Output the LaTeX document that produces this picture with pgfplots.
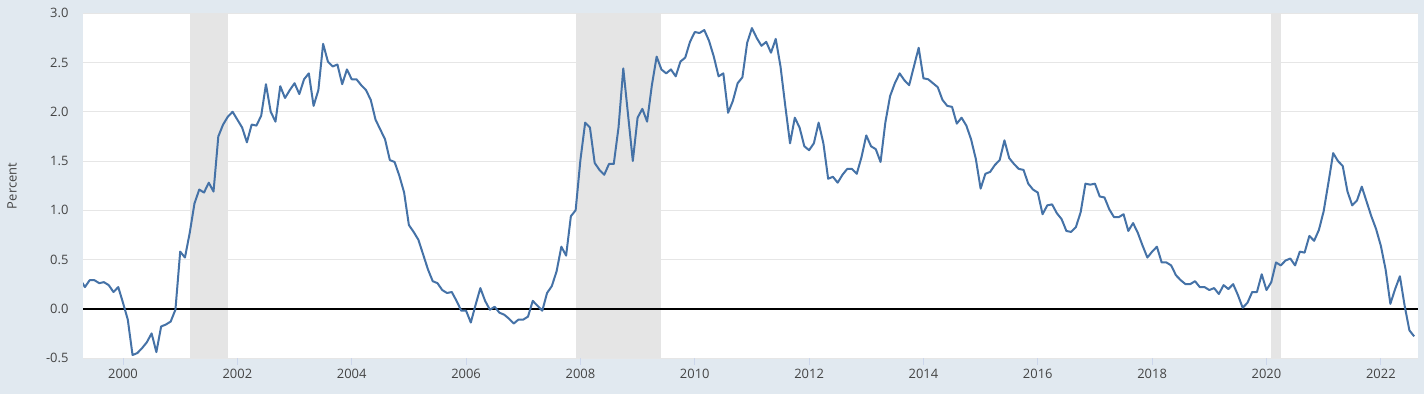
\documentclass[border=0pt]{standalone}
\usepackage{fontspec}
\setmainfont{Open Sans}
\usepackage{pgfplots}
\pgfplotsset{compat=1.18}
\usepackage{pgfplotstable}
\definecolor{bg}{HTML}{E1E9F0}
\definecolor{seriesc}{HTML}{4572A7}
\definecolor{gridc}{HTML}{E6E6E6}
\definecolor{recc}{HTML}{E5E5E5}
\definecolor{tickc}{HTML}{CCD6EB}
\definecolor{labc}{HTML}{444444}
\pgfplotstableread{
k v
-9 0.30
-8 0.22
-7 0.29
-6 0.29
-5 0.26
-4 0.27
-3 0.24
-2 0.17
-1 0.22
0 0.06
1 -0.11
2 -0.47
3 -0.45
4 -0.40
5 -0.34
6 -0.25
7 -0.44
8 -0.18
9 -0.16
10 -0.13
11 -0.01
12 0.58
13 0.52
14 0.77
15 1.07
16 1.21
17 1.18
18 1.28
19 1.19
20 1.75
21 1.87
22 1.95
23 2.00
24 1.92
25 1.84
26 1.69
27 1.87
28 1.86
29 1.96
30 2.28
31 2.00
32 1.90
33 2.26
34 2.14
35 2.22
36 2.29
37 2.18
38 2.33
39 2.39
40 2.06
41 2.22
42 2.69
43 2.51
44 2.46
45 2.48
46 2.28
47 2.43
48 2.33
49 2.33
50 2.27
51 2.22
52 2.12
53 1.92
54 1.82
55 1.72
56 1.51
57 1.49
58 1.35
59 1.18
60 0.85
61 0.78
62 0.70
63 0.55
64 0.40
65 0.28
66 0.26
67 0.19
68 0.16
69 0.17
70 0.08
71 -0.02
72 -0.02
73 -0.14
74 0.04
75 0.21
76 0.08
77 -0.01
78 0.02
79 -0.04
80 -0.06
81 -0.10
82 -0.15
83 -0.11
84 -0.11
85 -0.08
86 0.08
87 0.03
88 -0.02
89 0.16
90 0.23
91 0.38
92 0.63
93 0.54
94 0.94
95 1.00
96 1.51
97 1.89
98 1.84
99 1.48
100 1.41
101 1.36
102 1.47
103 1.47
104 1.84
105 2.44
106 1.97
107 1.50
108 1.94
109 2.03
110 1.90
111 2.27
112 2.56
113 2.43
114 2.39
115 2.43
116 2.36
117 2.51
118 2.55
119 2.71
120 2.81
121 2.80
122 2.83
123 2.72
124 2.56
125 2.36
126 2.39
127 1.99
128 2.11
129 2.29
130 2.35
131 2.70
132 2.85
133 2.75
134 2.67
135 2.71
136 2.60
137 2.74
138 2.46
139 2.06
140 1.68
141 1.94
142 1.84
143 1.65
144 1.61
145 1.68
146 1.89
147 1.68
148 1.32
149 1.34
150 1.28
151 1.36
152 1.42
153 1.42
154 1.37
155 1.54
156 1.76
157 1.65
158 1.62
159 1.49
160 1.89
161 2.16
162 2.29
163 2.39
164 2.32
165 2.27
166 2.46
167 2.65
168 2.34
169 2.33
170 2.29
171 2.25
172 2.12
173 2.06
174 2.05
175 1.88
176 1.94
177 1.86
178 1.72
179 1.52
180 1.22
181 1.37
182 1.39
183 1.46
184 1.51
185 1.71
186 1.53
187 1.47
188 1.42
189 1.41
190 1.27
191 1.21
192 1.18
193 0.96
194 1.05
195 1.06
196 0.97
197 0.91
198 0.79
199 0.78
200 0.83
201 0.98
202 1.27
203 1.26
204 1.27
205 1.14
206 1.13
207 1.01
208 0.93
209 0.93
210 0.96
211 0.79
212 0.87
213 0.77
214 0.64
215 0.52
216 0.58
217 0.63
218 0.47
219 0.47
220 0.44
221 0.34
222 0.29
223 0.25
224 0.25
225 0.28
226 0.22
227 0.22
228 0.19
229 0.21
230 0.15
231 0.24
232 0.20
233 0.25
234 0.14
235 0.01
236 0.06
237 0.17
238 0.17
239 0.35
240 0.19
241 0.27
242 0.47
243 0.44
244 0.49
245 0.51
246 0.44
247 0.58
248 0.57
249 0.74
250 0.69
251 0.80
252 0.99
253 1.28
254 1.58
255 1.50
256 1.45
257 1.19
258 1.05
259 1.10
260 1.24
261 1.09
262 0.94
263 0.81
264 0.64
265 0.40
266 0.05
267 0.20
268 0.33
269 0.03
270 -0.22
271 -0.28
}\spread
\begin{document}
\begin{tikzpicture}
\fill[bg] (0,0) rectangle (1424bp,394bp);
\begin{axis}[
  at={(83bp,36bp)}, anchor=south west,
  scale only axis, width=1335bp, height=344.7bp,
  xmin=-8.4, xmax=271.8, ymin=-0.5, ymax=3.0,
  axis background/.style={fill=white},
  axis line style={draw=none},
  clip=true,
  xtick={0,24,...,264},
  xticklabels={2000,2002,2004,2006,2008,2010,2012,2014,2016,2018,2020,2022},
  ytick={-0.5,0,0.5,1,1.5,2,2.5,3},
  yticklabels={-0.5,0.0,0.5,1.0,1.5,2.0,2.5,3.0},
  ymajorgrids, major grid style={gridc, line width=1bp},
  xtick pos=bottom, ytick pos=left,
  x tick style={tickc, line width=1bp}, xtick align=outside,
  major tick length=7bp,
  y tick style={draw=none},
  tick label style={font=\fontsize{13}{15}\selectfont, text=labc},
  xticklabel style={yshift=-1bp},
  yticklabel style={xshift=-11bp},
]
\addplot[fill=recc, draw=none] coordinates {(14,-0.5) (14,3) (22,3) (22,-0.5)} -- cycle;
\addplot[fill=recc, draw=none] coordinates {(95,-0.5) (95,3) (113,3) (113,-0.5)} -- cycle;
\addplot[fill=recc, draw=none] coordinates {(241,-0.5) (241,3) (243,3) (243,-0.5)} -- cycle;
\addplot[tickc, line width=1bp] coordinates {(-8.4,-0.5) (271.8,-0.5)};
\addplot[black, line width=1.8bp] coordinates {(-8.4,0) (271.8,0)};
\addplot[seriesc, line width=2bp, line join=round] table[x=k, y=v] {\spread};
\end{axis}
\node[rotate=90, font=\fontsize{13}{15}\selectfont, text=labc] at (12bp,208bp) {Percent};
\end{tikzpicture}
\end{document}
